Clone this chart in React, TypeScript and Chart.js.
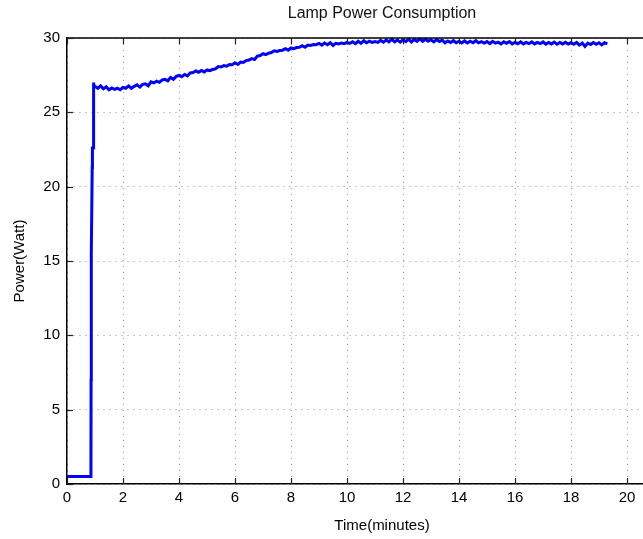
import React, { useEffect, useRef } from "react";
import { Chart, registerables } from "chart.js";

Chart.register(...registerables);

const TITLE = "Lamp Power Consumption";
const X_TITLE = "Time(minutes)";
const Y_TITLE = "Power(Watt)";

const X_MIN = 0;
const X_MAX = 22.5;
const X_STEP = 2;
const Y_MIN = 0;
const Y_MAX = 30;
const Y_STEP = 5;

// Warm-up phase (minutes, watts)
const START_TIMES = [0, 0.855, 0.86, 0.865, 0.87, 0.9, 0.905, 0.91, 0.93, 0.95, 0.97];
const START_POWER = [0.5, 0.5, 7.0, 15.5, 15.4, 21.3, 22.5, 22.6, 22.6, 27.0, 26.7];

// Steady sampling from 1.0 min every 0.1 min
const STEADY_START = 1.0;
const STEADY_STEP = 0.1;
const STEADY_POWER = [
  26.75, 26.62, 26.78, 26.58, 26.72, 26.52, 26.64, 26.55, 26.62, 26.52,
  26.68, 26.62, 26.78, 26.62, 26.75, 26.85, 26.7, 26.88, 26.92, 26.78,
  27.05, 26.98, 27.1, 27.02, 27.18, 27.22, 27.12, 27.35, 27.22, 27.42,
  27.48, 27.4, 27.55, 27.45, 27.65, 27.68, 27.78, 27.7, 27.82, 27.72,
  27.85, 27.8, 27.88, 27.92, 28.08, 28.05, 28.14, 28.1, 28.22, 28.2,
  28.33, 28.22, 28.38, 28.36, 28.48, 28.52, 28.62, 28.55, 28.78, 28.82,
  28.94, 28.88, 28.98, 29.02, 29.14, 29.1, 29.16, 29.18, 29.28, 29.18,
  29.33, 29.28, 29.36, 29.38, 29.48, 29.38, 29.53, 29.5, 29.56, 29.55,
  29.64, 29.52, 29.66, 29.55, 29.68, 29.5, 29.64, 29.6, 29.66, 29.62,
  29.7, 29.64, 29.75, 29.62, 29.78, 29.64, 29.82, 29.68, 29.78, 29.7,
  29.76, 29.7, 29.84, 29.72, 29.86, 29.74, 29.92, 29.74, 29.86, 29.72,
  29.88, 29.76, 29.92, 29.74, 29.9, 29.78, 29.96, 29.78, 29.92, 29.78,
  29.88, 29.74, 29.9, 29.76, 29.86, 29.68, 29.8, 29.7, 29.82, 29.68,
  29.78, 29.66, 29.8, 29.66, 29.78, 29.68, 29.82, 29.68, 29.76, 29.66,
  29.76, 29.62, 29.78, 29.66, 29.72, 29.6, 29.74, 29.64, 29.76, 29.6,
  29.72, 29.62, 29.74, 29.6, 29.7, 29.62, 29.74, 29.6, 29.7, 29.62,
  29.74, 29.58, 29.7, 29.6, 29.72, 29.58, 29.7, 29.6, 29.72, 29.6,
  29.68, 29.58, 29.7, 29.52, 29.66, 29.44, 29.66, 29.56, 29.7, 29.58,
  29.68, 29.54, 29.68, 29.6,
];

const FONT = '"Liberation Sans", Arial, sans-serif';

const frameAndTitle = {
  id: "frameAndTitle",
  afterDraw(chart: any) {
    const { ctx, chartArea } = chart;
    const { left, right, top, bottom } = chartArea;
    const xs = chart.scales.x;
    const ys = chart.scales.y;
    ctx.save();
    ctx.strokeStyle = "#000";
    ctx.lineWidth = 1.5;
    ctx.beginPath();
    ctx.moveTo(left, top);
    ctx.lineTo(right, top);
    ctx.stroke();
    ctx.strokeStyle = "#222";
    ctx.lineWidth = 1.2;
    const tl = 6;
    xs.ticks.forEach((t: any) => {
      const px = Math.round(xs.getPixelForValue(t.value)) + 0.5;
      ctx.beginPath();
      ctx.moveTo(px, bottom);
      ctx.lineTo(px, bottom - tl);
      ctx.moveTo(px, top);
      ctx.lineTo(px, top + tl);
      ctx.stroke();
    });
    ys.ticks.forEach((t: any) => {
      const py = Math.round(ys.getPixelForValue(t.value)) + 0.5;
      ctx.beginPath();
      ctx.moveTo(left, py);
      ctx.lineTo(left + tl, py);
      ctx.stroke();
    });
    ctx.fillStyle = "#111";
    ctx.font = "16px " + FONT;
    ctx.textAlign = "center";
    ctx.textBaseline = "middle";
    ctx.fillText(TITLE, (left + right) / 2, 14);
    ctx.restore();
  },
};

export default function App() {
  const ref = useRef<HTMLCanvasElement | null>(null);

  useEffect(() => {
    if (!ref.current) return;
    const points: { x: number; y: number }[] = [];
    START_TIMES.forEach((t, i) => points.push({ x: t, y: START_POWER[i] }));
    STEADY_POWER.forEach((v, i) =>
      points.push({ x: +(STEADY_START + i * STEADY_STEP).toFixed(2), y: v })
    );

    const chart = new Chart(ref.current, {
      type: "line",
      data: {
        datasets: [
          {
            data: points,
            borderColor: "#0000ff",
            backgroundColor: "#0000ff",
            borderWidth: 3,
            pointRadius: 0,
            tension: 0,
            fill: false,
          },
        ],
      },
      options: {
        animation: false,
        responsive: false,
        parsing: false as any,
        layout: { padding: { top: 38, left: 0, right: 0, bottom: 0 } },
        plugins: {
          legend: { display: false },
          title: { display: false },
          tooltip: { enabled: false },
        },
        scales: {
          x: {
            type: "linear",
            min: X_MIN,
            max: X_MAX,
            afterFit: (s: any) => {
              s.height = 55;
            },
            ticks: {
              stepSize: X_STEP,
              includeBounds: false,
              color: "#000",
              padding: 5,
              maxRotation: 0,
              font: { family: FONT, size: 15 },
            },
            grid: {
              color: "#909090",
              lineWidth: 1,
              drawTicks: false,
            },
            border: { display: true, color: "#000", width: 1.5, dash: [1, 5] },
            title: {
              display: true,
              text: X_TITLE,
              color: "#000",
              font: { family: FONT, size: 15 },
              padding: { top: 0, bottom: 4 },
            },
          },
          y: {
            type: "linear",
            min: Y_MIN,
            max: Y_MAX,
            afterFit: (s: any) => {
              s.width = 67;
            },
            ticks: {
              stepSize: Y_STEP,
              color: "#000",
              padding: 7,
              font: { family: FONT, size: 15 },
            },
            grid: {
              color: "#909090",
              lineWidth: 1,
              drawTicks: false,
            },
            border: { display: true, color: "#000", width: 1.5, dash: [1, 5] },
            title: {
              display: true,
              text: Y_TITLE,
              color: "#000",
              font: { family: FONT, size: 15 },
              padding: { top: 11, bottom: 0 },
            },
          },
        },
      },
      plugins: [frameAndTitle],
    });
    return () => chart.destroy();
  }, []);

  return (
    <div
      style={{
        position: "fixed",
        left: 0,
        top: 0,
        width: 643,
        height: 539,
        overflow: "hidden",
        background: "#fff",
      }}
    >
      <canvas ref={ref} width={697} height={539} style={{ display: "block" }} />
    </div>
  );
}
